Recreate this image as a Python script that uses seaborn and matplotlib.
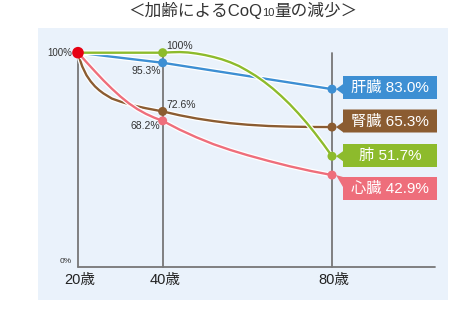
import matplotlib
matplotlib.use("Agg")
import matplotlib.pyplot as plt
import matplotlib.patheffects as pe
from matplotlib.patches import Rectangle, Polygon
from matplotlib.offsetbox import TextArea, HPacker, AnnotationBbox
import seaborn as sns
import pandas as pd

# ---------------- data ----------------
key_ages = [20, 40, 80]
tick_labels = ["20歳", "40歳", "80歳"]
organs = ["肝臓", "腎臓", "肺", "心臓"]
liver = [100, 95.3, 83.0]
kidney = [100, 72.6, 65.3]
lung = [100, 100, 51.7]
heart = [100, 68.2, 42.9]

# curve shapes
liver_curve_age = [20, 40, 80]
liver_curve = [100, 95.3, 83.0]
kidney_curve_age = [20, 20.5, 21, 22, 23, 24, 25, 26, 28, 30, 33, 36, 40,
                    44, 48, 52, 56, 60, 65, 70, 75, 80]
kidney_curve = [100, 96.5, 93.6, 89.5, 86.6, 84.3, 82.5, 81.0, 78.6, 77.2, 75.4, 74.1, 72.6,
                70.8, 69.3, 68.1, 67.1, 66.4, 65.8, 65.5, 65.35, 65.3]
lung_curve_age = [20, 40, 42, 44, 46, 48, 50, 52, 54, 56, 58, 60, 62, 64, 66, 68,
                  70, 72, 74, 76, 78, 80]
lung_curve = [100, 100, 100.2, 100.3, 100.1, 99.6, 98.9, 98.0, 96.9, 95.5, 93.8, 91.6,
              89.2, 86.4, 83.3, 79.8, 76.0, 71.8, 67.3, 62.4, 57.2, 51.7]
heart_curve_age = [20, 22, 24, 26, 28, 30, 32, 34, 36, 38, 40,
                   44, 48, 52, 56, 60, 65, 70, 75, 80]
heart_curve = [100, 95.6, 91.3, 87.1, 83.2, 79.6, 76.4, 73.7, 71.5, 69.7, 68.2,
               64.1, 60.5, 57.3, 54.6, 52.2, 49.5, 47.0, 44.8, 42.9]

colors = ["#3d8fd3", "#8b5c31", "#8dbb2c", "#ee6e7b"]

# ---------------- style ----------------
sns.set_theme(style="white")
plt.rcParams['font.family'] = ['Liberation Sans', 'Noto Sans CJK JP', 'DejaVu Sans']

W, H = 450, 310
fig = plt.figure(figsize=(W / 100, H / 100), dpi=100)
fig.patch.set_facecolor("white")

# panel background
fig.patches.append(Rectangle((38 / W, (H - 300) / H), (448 - 38) / W, (300 - 28) / H,
                             transform=fig.transFigure, facecolor="#eaf2fb",
                             edgecolor="none", zorder=0))

ax = fig.add_axes([78 / W, (H - 267) / H, (332 - 78) / W, (267 - 52.7) / H])
ax.set_xlim(20, 80)
ax.set_ylim(0, 100)
ax.axis("off")
ax.patch.set_alpha(0)
ax.set_zorder(1)

ov = fig.add_axes([0, 0, 1, 1])
ov.set_xlim(0, W)
ov.set_ylim(H, 0)
ov.axis("off")
ov.patch.set_alpha(0)
ov.set_zorder(2)

def to_px(x, y):
    return ov.transData.inverted().transform(ax.transData.transform((x, y)))

# vertical guide lines and baseline
gray = "#777777"
for a in key_ages:
    ax.plot([a, a], [0, 100], color=gray, lw=1.3, zorder=1, clip_on=False)
x0, y0 = to_px(20, 0)
ov.plot([x0, 435], [y0, y0], color=gray, lw=1.3, zorder=1)

# curves
halo = [pe.Stroke(linewidth=3.5, foreground="white"), pe.Normal()]
curves = [(liver_curve_age, liver_curve), (kidney_curve_age, kidney_curve),
          (lung_curve_age, lung_curve), (heart_curve_age, heart_curve)]
for (xa, ya), c in zip(curves, colors):
    df = pd.DataFrame({"age": xa, "val": ya})
    sns.lineplot(data=df, x="age", y="val", color=c, linewidth=1.7, ax=ax,
                 estimator=None, sort=False, zorder=3, path_effects=halo)
for ln in ax.lines:
    ln.set_clip_on(False)
    ln.set_solid_joinstyle("round")

# markers at 40 and 80
series = [liver, kidney, lung, heart]
for s, c in zip(series, colors):
    df = pd.DataFrame({"age": key_ages[1:], "val": s[1:]})
    sns.scatterplot(data=df, x="age", y="val", color=c, s=42, edgecolor="none",
                    ax=ax, zorder=4, clip_on=False, legend=False)
sns.scatterplot(x=[key_ages[0]], y=[100], color="#e60012", s=70, edgecolor="none",
                ax=ax, zorder=5, clip_on=False, legend=False)
ax.set_xlabel("")
ax.set_ylabel("")

tc = "#333333"
# value annotations
px, py = to_px(20, 100)
ov.text(px - 6, py, "100%", ha="right", va="center", fontsize=7, color=tc)
px, py = to_px(20, 0)
ov.text(px - 6, py - 2, "0%", ha="right", va="bottom", fontsize=6, color=tc)
px, py = to_px(40, lung[1])
ov.text(px + 4, py - 7, f"{lung[1]:g}%", ha="left", va="center", fontsize=7.5, color=tc)
px, py = to_px(40, liver[1])
ov.text(px - 2, py + 8, f"{liver[1]:.1f}%", ha="right", va="center", fontsize=7.5, color=tc)
px, py = to_px(40, kidney[1])
ov.text(px + 4, py - 6, f"{kidney[1]:.1f}%", ha="left", va="center", fontsize=7.5, color=tc)
px, py = to_px(40, heart[1])
ov.text(px - 3, py + 5, f"{heart[1]:.1f}%", ha="right", va="center", fontsize=7.5, color=tc)

# x tick labels
for a, lab in zip(key_ages, tick_labels):
    px, py = to_px(a, 0)
    ov.text(px + 2, py + 13, lab, ha="center", va="center", fontsize=10.5, color="#222222")

# label boxes with pointers
box_centers = [87.5, 121, 155.5, 188.5]
bx0, bx1, bh = 343, 437, 23
for s, c, name, yc in zip(series, colors, organs, box_centers):
    mx, my = to_px(key_ages[2], s[2])
    top, bot = yc - bh / 2, yc + bh / 2
    b0 = min(max(my - 5, top), bot - 10)
    poly = Polygon([(bx0, top), (bx1, top), (bx1, bot), (bx0, bot),
                    (bx0, b0 + 10), (mx + 4, my), (bx0, b0)],
                   closed=True, facecolor=c, edgecolor="none", zorder=3)
    ov.add_patch(poly)
    ov.text((bx0 + bx1) / 2, yc + 0.5, f"{name} {s[2]:.1f}%", ha="center", va="center",
            fontsize=11, color="white", zorder=4)

# title
tp = dict(fontsize=12, color="#333333")
title = HPacker(children=[TextArea("＜加齢によるCoQ", textprops=tp),
                          TextArea("10", textprops=dict(fontsize=8, color="#333333")),
                          TextArea("量の減少＞", textprops=tp)],
                align="baseline", pad=0, sep=0)
ov.add_artist(AnnotationBbox(title, (243, 10), xycoords="data", frameon=False,
                             box_alignment=(0.5, 0.5)))

fig.savefig("out.png", dpi=100)
